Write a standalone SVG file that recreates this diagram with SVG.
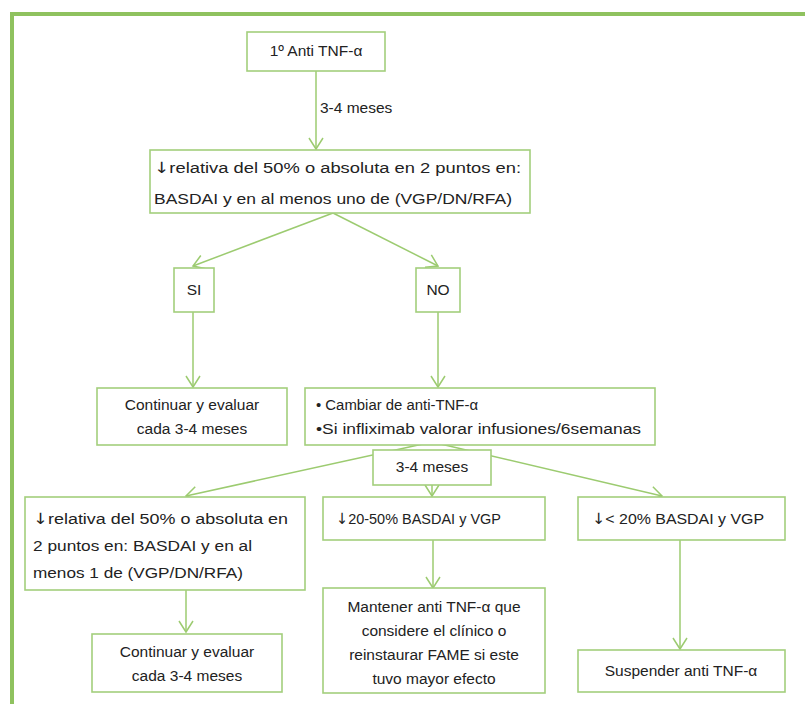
<svg xmlns="http://www.w3.org/2000/svg" width="805" height="704" viewBox="0 0 805 704">
<defs>
<style>
.box{fill:#fff;stroke:#a3cf7c;stroke-width:1.6}
.ln{fill:none;stroke:#9ccb70;stroke-width:1.5}
text{font-family:"Liberation Sans",Arial,sans-serif;font-size:15.5px;fill:#222}
.c{text-anchor:middle}
.ar{font-family:"DejaVu Sans",sans-serif}
</style>
<marker id="ah" markerUnits="userSpaceOnUse" markerWidth="16" markerHeight="16" refX="13" refY="8" orient="auto">
<path d="M2,1 L13,8 L2,15" fill="none" stroke="#9ccb70" stroke-width="1.5"/>
</marker>
</defs>
<rect width="805" height="704" fill="#fff"/>
<path d="M12,704 V14 H805" fill="none" stroke="#8fc25f" stroke-width="4"/>
<g id="connectors">
<path class="ln" d="M316,71 V149" marker-end="url(#ah)"/>
<path class="ln" d="M333,213 L193,266" marker-end="url(#ah)"/>
<path class="ln" d="M333,213 L438,266" marker-end="url(#ah)"/>
<path class="ln" d="M193,312 V387" marker-end="url(#ah)"/>
<path class="ln" d="M438,312 V387" marker-end="url(#ah)"/>
<path class="ln" d="M432,442 L186,496" marker-end="url(#ah)"/>
<path class="ln" d="M432,442 L662,496" marker-end="url(#ah)"/>
<path class="ln" d="M432,485 V496" marker-end="url(#ah)"/>
<path class="ln" d="M186,590 V632" marker-end="url(#ah)"/>
<path class="ln" d="M433,540 V588" marker-end="url(#ah)"/>
<path class="ln" d="M680,540 V649" marker-end="url(#ah)"/>
</g>
<text x="320" y="113">3-4 meses</text>
<g id="n1"><rect class="box" x="247" y="32" width="138" height="39"/><text class="c" x="316" y="56">1º Anti TNF-α</text></g>
<g id="n2"><rect class="box" x="150" y="150" width="380" height="63"/>
<text x="154" y="173" textLength="367" lengthAdjust="spacingAndGlyphs"><tspan class="ar">↓</tspan>relativa del 50% o absoluta  en 2 puntos en:</text>
<text x="154" y="204" textLength="358" lengthAdjust="spacingAndGlyphs">BASDAI y en al menos  uno de (VGP/DN/RFA)</text></g>
<g id="n3"><rect class="box" x="174" y="268" width="40" height="44"/><text class="c" x="194" y="295">SI</text></g>
<g id="n4"><rect class="box" x="416" y="268" width="44" height="44"/><text class="c" x="438" y="295">NO</text></g>
<g id="n5"><rect class="box" x="97" y="388" width="190" height="57"/>
<text class="c" x="192" y="410">Continuar y evaluar</text><text class="c" x="192" y="434">cada 3-4 meses</text></g>
<g id="n6"><rect class="box" x="305" y="388" width="350" height="57"/>
<text x="316" y="410" textLength="162" lengthAdjust="spacingAndGlyphs">• Cambiar  de anti-TNF-α</text>
<text x="316" y="434" textLength="325" lengthAdjust="spacingAndGlyphs">•Si infliximab valorar infusiones/6semanas</text></g>
<g id="n7"><rect class="box" x="373" y="450" width="118" height="35"/><text class="c" x="432" y="472">3-4 meses</text></g>
<g id="n8"><rect class="box" x="25" y="497" width="280" height="93"/>
<text x="33" y="524" textLength="255" lengthAdjust="spacingAndGlyphs"><tspan class="ar">↓</tspan>relativa del 50% o absoluta  en</text>
<text x="33" y="551" textLength="219" lengthAdjust="spacingAndGlyphs">2 puntos en:  BASDAI y en al</text>
<text x="33" y="578" textLength="210" lengthAdjust="spacingAndGlyphs">menos 1 de (VGP/DN/RFA)</text></g>
<g id="n9"><rect class="box" x="323" y="497" width="222" height="43"/><text x="336" y="524" textLength="165" lengthAdjust="spacingAndGlyphs"><tspan class="ar">↓</tspan>20-50% BASDAI y VGP</text></g>
<g id="n10"><rect class="box" x="578" y="497" width="207" height="43"/><text x="592" y="524" textLength="172" lengthAdjust="spacingAndGlyphs"><tspan class="ar">↓</tspan>&lt; 20% BASDAI y VGP</text></g>
<g id="n11"><rect class="box" x="92" y="634" width="190" height="58"/>
<text class="c" x="187" y="657">Continuar y evaluar</text><text class="c" x="187" y="681">cada 3-4 meses</text></g>
<g id="n12"><rect class="box" x="323" y="588" width="222" height="105"/>
<text class="c" x="434" y="612">Mantener anti TNF-α que</text>
<text class="c" x="434" y="636">considere el clínico o</text>
<text class="c" x="434" y="660">reinstaurar FAME si este</text>
<text class="c" x="434" y="684">tuvo mayor efecto</text></g>
<g id="n13"><rect class="box" x="578" y="650" width="207" height="42"/><text class="c" x="681" y="676">Suspender anti TNF-α</text></g>
</svg>
